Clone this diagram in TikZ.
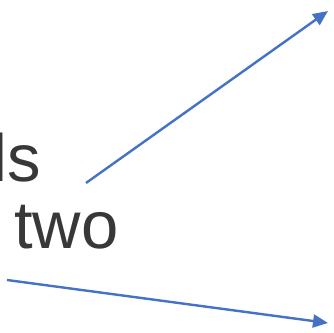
\documentclass[tikz,border=0pt]{standalone}
\usepackage{fontspec}
\setmainfont{Liberation Sans}
\usetikzlibrary{arrows.meta}
\definecolor{arrowblue}{HTML}{4472C4}
\definecolor{textgray}{HTML}{383838}

\begin{document}
\begin{tikzpicture}[x=1pt, y=1pt,
    label text/.style={text=textgray, inner sep=0pt, anchor=base west,
      font=\fontsize{67}{69}\selectfont},
    pointer/.style={draw=arrowblue, line width=2.4pt,
      -{Triangle[length=15pt, width=13pt]}}]
    \useasboundingbox (0,0) rectangle (334,332);
    \clip (0,0) rectangle (334,332);
    % clipped two-line label
    \node[label text] (ls) at (-8,150) {ls};
    \node[label text] (two) at (14,84) {two};
    % arrow ends
    \coordinate (upstart) at (86,149);
    \coordinate (upend) at (328,321);
    \coordinate (lowstart) at (7,52);
    \coordinate (lowend) at (328,9);
    % arrows
    \draw[pointer] (upstart) -- (upend);
    \draw[pointer] (lowstart) -- (lowend);
\end{tikzpicture}
\end{document}
